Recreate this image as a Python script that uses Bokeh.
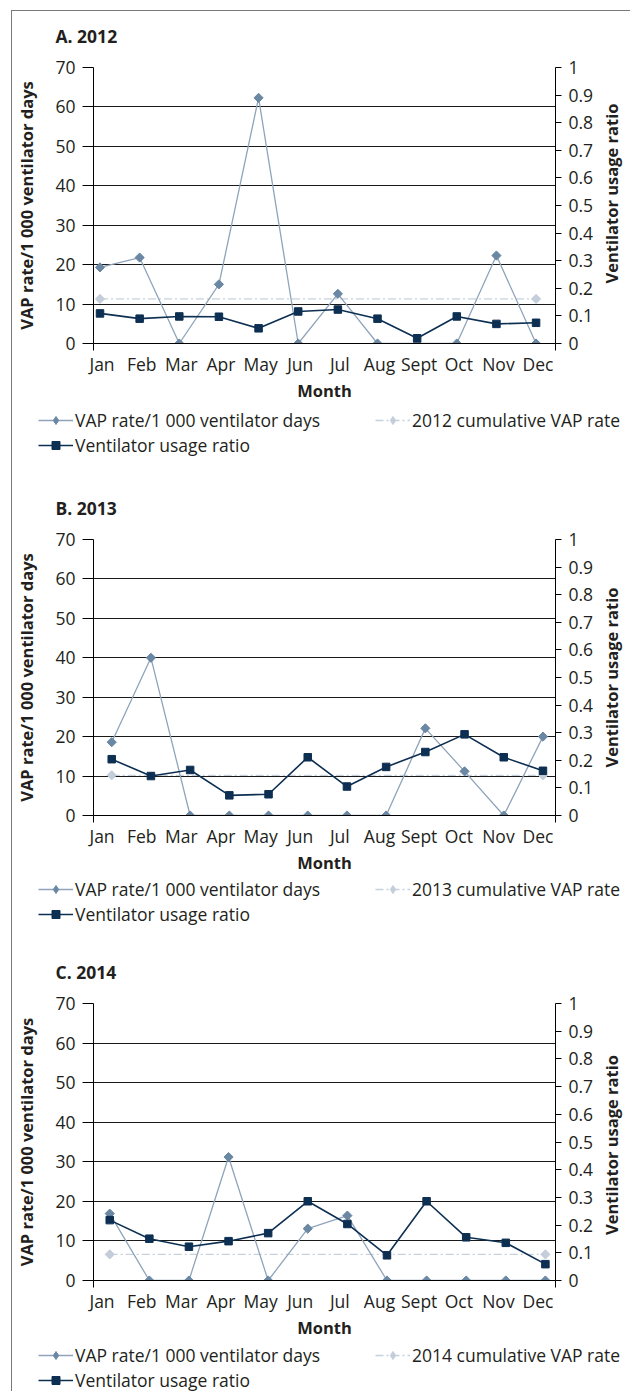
import math
from bokeh.plotting import figure
from bokeh.models import Range1d, LinearAxis, FixedTicker, Legend, LegendItem
from bokeh.core.properties import value
from bokeh.layouts import column, row
from bokeh.embed import file_html
from bokeh.resources import INLINE

months = ["Jan", "Feb", "Mar", "Apr", "May", "Jun", "Jul", "Aug", "Sept", "Oct", "Nov", "Dec"]

vap_2012 = [19.3, 21.8, 0, 15.0, 62.3, 0, 12.6, 0, 0, 0, 22.3, 0]
cum_2012 = 11.3
vent_2012 = [0.109, 0.090, 0.098, 0.097, 0.055, 0.116, 0.123, 0.090, 0.019, 0.098, 0.071, 0.075]

vap_2013 = [18.6, 40.0, 0, 0, 0, 0, 0, 0, 22.1, 11.2, 0, 20.0]
cum_2013 = 10.2
vent_2013 = [0.204, 0.143, 0.165, 0.073, 0.077, 0.211, 0.105, 0.176, 0.230, 0.294, 0.211, 0.162]

vap_2014 = [16.9, 0, 0, 31.2, 0, 13.1, 16.4, 0, 0, 0, 0, 0]
cum_2014 = 6.6
vent_2014 = [0.218, 0.151, 0.122, 0.142, 0.171, 0.286, 0.204, 0.091, 0.286, 0.156, 0.136, 0.059]

# (title, cumulative label, vap, cum, vent, data x-range, frame height, legend strip height,
#  legend shift, right-title shift)
panels = [
    ("A. 2012", "2012 cumulative VAP rate", vap_2012, cum_2012, vent_2012, (-0.164, 11.49), 280, 79, 6, -14),
    ("B. 2013", "2013 cumulative VAP rate", vap_2013, cum_2013, vent_2013, (-0.465, 11.32), 280, 71, 3, -2),
    ("C. 2014", "2014 cumulative VAP rate", vap_2014, cum_2014, vent_2014, (-0.41, 11.255), 281, 50, 4, 1),
]

FONT = "Open Sans"
FS = "17.5px"
AFS = "16.5px"
TXT = "#231f20"
VAP_LINE = "#8fa4ba"
VAP_MARK = "#6a87a3"
CUM_LINE = "#c6d1dc"
CUM_MARK = "#c3ceda"
VENT = "#0d2f52"
LAB = (-0.215, 11.44)
W_CHART = 588
W_SIDE = 30
W_ALL = W_CHART + W_SIDE
TITLE_H = 40
TOP = 16
BOT = 57


def blank(width, height, xr, yr):
    f = figure(width=width, height=height, output_backend="svg", toolbar_location=None,
               x_range=xr, y_range=yr, x_axis_location=None, y_axis_location=None,
               min_border_left=0, min_border_right=0, min_border_top=0, min_border_bottom=0)
    f.frame_align = False
    f.grid.visible = False
    f.outline_line_color = None
    f.background_fill_color = None
    f.border_fill_color = None
    return f


def add_series(p, x, vap, cum, vent, legend_markers=False):
    cum_x = [x[0], x[-1]]
    cum_y = [cum, cum]
    if legend_markers:
        dk = dict(marker="diamond", size=10.5)
    else:
        dk = dict(marker="square", angle=math.pi / 4, size=6.5)
    c_line = p.line(cum_x, cum_y, x_range_name="data", line_color=CUM_LINE, line_width=1.3,
                    line_dash="8 3 2 3")
    c_mark = p.scatter(cum_x, cum_y, x_range_name="data", fill_color=CUM_MARK,
                       line_color=CUM_MARK, **dk)
    v_line = p.line(x, vap, x_range_name="data", line_color=VAP_LINE, line_width=1.3)
    v_mark = p.scatter(x, vap, x_range_name="data", fill_color=VAP_MARK, line_color=VAP_MARK, **dk)
    r_line = p.line(x, vent, x_range_name="data", y_range_name="ratio", line_color=VENT,
                    line_width=1.6)
    r_mark = p.scatter(x, vent, x_range_name="data", y_range_name="ratio", marker="square",
                       size=7.5, fill_color=VENT, line_color=VENT)
    return (c_line, c_mark), (v_line, v_mark), (r_line, r_mark)


def make_title(title):
    t = blank(W_ALL, TITLE_H, Range1d(0, W_ALL), Range1d(0, TITLE_H))
    t.text(x=[43], y=[TITLE_H - 12.3], text=[title], text_align="left",
           text_baseline="top", text_font=value(FONT), text_font_style="bold",
           text_font_size=FS, text_color=TXT)
    return t


def make_chart(vap, cum, vent, xr, fh):
    x = list(range(len(months)))
    p = figure(width=W_CHART, height=TOP + fh + BOT, output_backend="svg", toolbar_location=None,
               x_range=Range1d(*LAB), y_range=Range1d(0, 70),
               min_border_left=81, min_border_right=45, min_border_top=TOP,
               min_border_bottom=BOT)
    p.outline_line_color = None
    p.background_fill_color = None
    p.border_fill_color = None

    p.extra_y_ranges = {"ratio": Range1d(0, 1)}
    p.extra_x_ranges = {"data": Range1d(*xr)}

    ya = p.yaxis[0]
    ya.ticker = FixedTicker(ticks=list(range(0, 71, 10)), minor_ticks=[])
    ya.axis_label = "VAP rate/1 000 ventilator days"
    ya.major_tick_out = 11
    ya.major_tick_in = 0
    ya.minor_tick_out = 0
    ya.major_label_standoff = 7
    ya.axis_label_standoff = 14

    ra = LinearAxis(y_range_name="ratio",
                    ticker=FixedTicker(ticks=[i / 10 for i in range(11)], minor_ticks=[]))
    ra.major_label_overrides = {0: "0", 1: "1"}
    ra.major_tick_out = 6
    ra.major_tick_in = 0
    ra.minor_tick_out = 0
    ra.major_label_standoff = 7
    p.add_layout(ra, "right")

    xa = p.xaxis[0]
    xa.ticker = FixedTicker(ticks=x, minor_ticks=[LAB[0], LAB[1]])
    xa.major_label_overrides = {i: m for i, m in enumerate(months)}
    xa.axis_label = "Month"
    xa.major_tick_out = 0
    xa.major_tick_in = 0
    xa.minor_tick_out = 7
    xa.minor_tick_in = 0
    xa.minor_tick_line_color = "black"
    xa.major_label_standoff = 1
    xa.axis_label_standoff = 0

    for ax in [ya, ra, xa]:
        ax.major_label_text_font = FONT
        ax.major_label_text_font_size = FS
        ax.axis_label_text_font = FONT
        ax.axis_label_text_font_style = "bold"
        ax.axis_label_text_font_size = AFS
        ax.major_tick_line_color = "black"
        ax.major_label_text_color = TXT
        ax.axis_label_text_color = TXT
        ax.axis_line_color = "black"
        ax.axis_line_width = 1

    p.xgrid.visible = False
    p.ygrid.ticker = FixedTicker(ticks=list(range(0, 71, 10)))
    p.ygrid.grid_line_color = "#1a1a1a"
    p.ygrid.grid_line_width = 1

    add_series(p, x, vap, cum, vent)
    return p


def make_side_title(fh, shift):
    # right-hand axis title, read bottom-to-top, centred on the chart frame
    h = TOP + fh + BOT
    s = blank(W_SIDE, h, Range1d(0, W_SIDE), Range1d(0, h))
    s.text(x=[11], y=[h - (TOP + fh / 2 + shift)], text=["Ventilator usage ratio"],
           angle=math.pi / 2, text_align="center", text_baseline="middle",
           text_font=value(FONT), text_font_style="bold", text_font_size=AFS, text_color=TXT)
    return s


def make_legend(cum_label, vap, cum, vent, h, shift):
    # legend strip: same series, placed off-view so that only the legend shows
    x = list(range(len(months)))
    q = blank(W_ALL, h, Range1d(100, 101), Range1d(0, 70))
    q.extra_x_ranges = {"data": Range1d(100, 101)}
    q.extra_y_ranges = {"ratio": Range1d(0, 1)}
    (c_line, c_mark), (v_line, v_mark), (r_line, r_mark) = add_series(q, x, vap, cum, vent, True)
    legend = Legend(items=[
        LegendItem(label="VAP rate/1 000 ventilator days", renderers=[v_line, v_mark]),
        LegendItem(label="Ventilator usage ratio", renderers=[r_line, r_mark]),
        LegendItem(label=cum_label, renderers=[c_line, c_mark]),
    ], ncols=2, location=(26, h - 47 - shift))
    legend.label_text_font = FONT
    legend.label_text_font_size = FS
    legend.label_text_color = TXT
    legend.glyph_width = 35
    legend.glyph_height = 20
    legend.label_height = 20
    legend.label_width = 299
    legend.label_standoff = 2
    legend.spacing = 1
    legend.padding = 0
    legend.margin = 0
    legend.border_line_color = None
    legend.background_fill_alpha = 0
    q.add_layout(legend, "center")
    return q


children = []
for (title, cum_label, vap, cum, vent, xr, fh, lh, sh, rsh) in panels:
    children.append(make_title(title))
    children.append(row(make_chart(vap, cum, vent, xr, fh), make_side_title(fh, rsh), spacing=0))
    children.append(make_legend(cum_label, vap, cum, vent, lh, sh))

layout = column(*children, spacing=0,
                styles={"border-left": "1px solid #7a7a7a", "border-top": "1px solid #7a7a7a",
                        "margin-left": "11px", "margin-top": "10px"})

open("out.html", "w").write(file_html(layout, INLINE))
